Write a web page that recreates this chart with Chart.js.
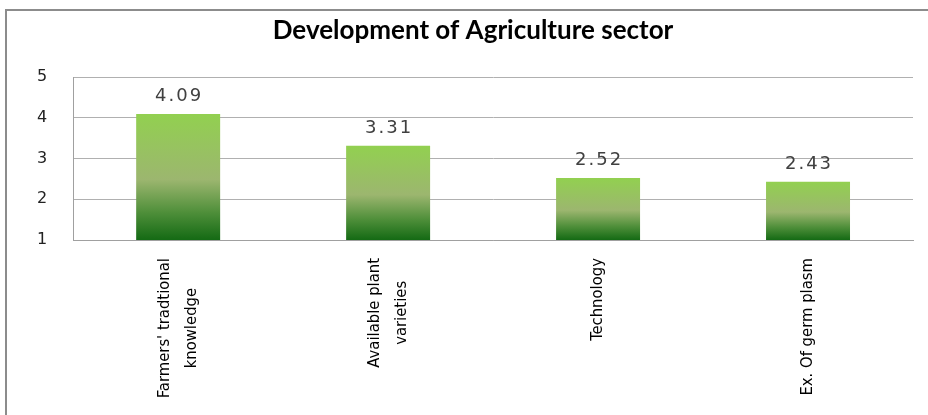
<!DOCTYPE html>
<html>
<head>
<meta charset="utf-8">
<script src="https://cdn.jsdelivr.net/npm/chart.js@4"></script>
<style>
  html, body { margin: 0; padding: 0; background: #fff; }
  #wrap { position: relative; width: 928px; height: 415px; overflow: hidden; }
  #frame { position: absolute; left: 5px; top: 9px; width: 940px; height: 430px;
           border-top: 2px solid #8c8c8c; border-left: 2px solid #8c8c8c; }
  canvas { position: absolute; left: 0; top: 0; }
</style>
</head>
<body>
<div id="wrap">
  <div id="frame"></div>
  <canvas id="agriChart" width="928" height="415"></canvas>
</div>
<script>
const titleText = "Development of Agriculture sector";
const categories = [
  ["Farmers' tradtional", "knowledge"],
  ["Available plant", "varieties"],
  ["Technology"],
  ["Ex. Of germ plasm"]
];
const scores = [4.09, 3.31, 2.52, 2.43];
const yMin = 1;
const yMax = 5;

// dégradé vert comme dans l'original
function barGradient(context) {
  const chart = context.chart;
  const y = chart.scales.y;
  if (!chart.chartArea || !y) return "#92d050";
  const top = y.getPixelForValue(context.raw);
  const bottom = y.getPixelForValue(yMin);
  const g = chart.ctx.createLinearGradient(0, top, 0, bottom);
  g.addColorStop(0, "#92d050");
  g.addColorStop(0.52, "#9cb66f");
  g.addColorStop(0.78, "#4f8f3a");
  g.addColorStop(1, "#146a14");
  return g;
}

// titre, un peu décalé à droite comme l'original
const chartTitle = {
  id: "chartTitle",
  afterDraw(chart) {
    const ctx = chart.ctx;
    ctx.save();
    ctx.font = "bold 26px Lato";
    ctx.fillStyle = "#000";
    ctx.textAlign = "center";
    ctx.textBaseline = "alphabetic";
    ctx.fillText(titleText, chart.width / 2 + 9, 39);
    ctx.restore();
  }
};

// valeurs au-dessus des barres
const valueLabels = {
  id: "valueLabels",
  afterDatasetsDraw(chart) {
    const ctx = chart.ctx;
    const meta = chart.getDatasetMeta(0);
    ctx.save();
    ctx.font = "18px 'DejaVu Sans'";
    ctx.fillStyle = "#404040";
    ctx.textAlign = "center";
    ctx.textBaseline = "alphabetic";
    if ("letterSpacing" in ctx) ctx.letterSpacing = "2px";
    meta.data.forEach((bar, i) => {
      ctx.fillText(scores[i].toFixed(2), bar.x + 1, bar.y - 13);
    });
    ctx.restore();
  }
};

// étiquettes verticales de l'axe x, lignes centrées
const verticalLabels = {
  id: "verticalLabels",
  afterDraw(chart) {
    const ctx = chart.ctx;
    const xs = chart.scales.x;
    const startY = chart.chartArea.bottom + 18;
    const lineH = 27;
    ctx.save();
    ctx.font = "16.5px 'Liberation Sans Narrow', 'DejaVu Sans Condensed', sans-serif";
    ctx.fillStyle = "#000";
    ctx.textAlign = "center";
    ctx.textBaseline = "middle";
    categories.forEach((lines, i) => {
      const x = xs.getPixelForTick(i);
      const maxW = Math.max(...lines.map(l => ctx.measureText(l).width));
      ctx.save();
      ctx.translate(x, startY + maxW / 2);
      ctx.rotate(-Math.PI / 2);
      lines.forEach((l, j) => {
        ctx.fillText(l, 0, (j - (lines.length - 1) / 2) * lineH);
      });
      ctx.restore();
    });
    ctx.restore();
  }
};

const ctx = document.getElementById("agriChart").getContext("2d");
new Chart(ctx, {
  type: "bar",
  data: {
    labels: categories,
    datasets: [{
      data: scores,
      backgroundColor: barGradient,
      borderWidth: 0,
      barPercentage: 0.4,
      categoryPercentage: 1
    }]
  },
  options: {
    responsive: false,
    animation: false,
    layout: { padding: { left: 11, right: 15, top: 77, bottom: 175 } },
    plugins: {
      legend: { display: false },
      tooltip: { enabled: false },
      title: { display: false }
    },
    scales: {
      x: {
        grid: { display: false, drawTicks: false },
        border: { display: true, color: "#a0a0a0" },
        ticks: { display: false }
      },
      y: {
        min: yMin,
        max: yMax,
        ticks: {
          stepSize: 1,
          color: "#222",
          padding: 26,
          font: { family: "DejaVu Sans", size: 16 }
        },
        grid: { color: "#b0b0b0", drawTicks: false },
        border: { display: true, color: "#a0a0a0" }
      }
    }
  },
  plugins: [chartTitle, valueLabels, verticalLabels]
});
</script>
</body>
</html>
